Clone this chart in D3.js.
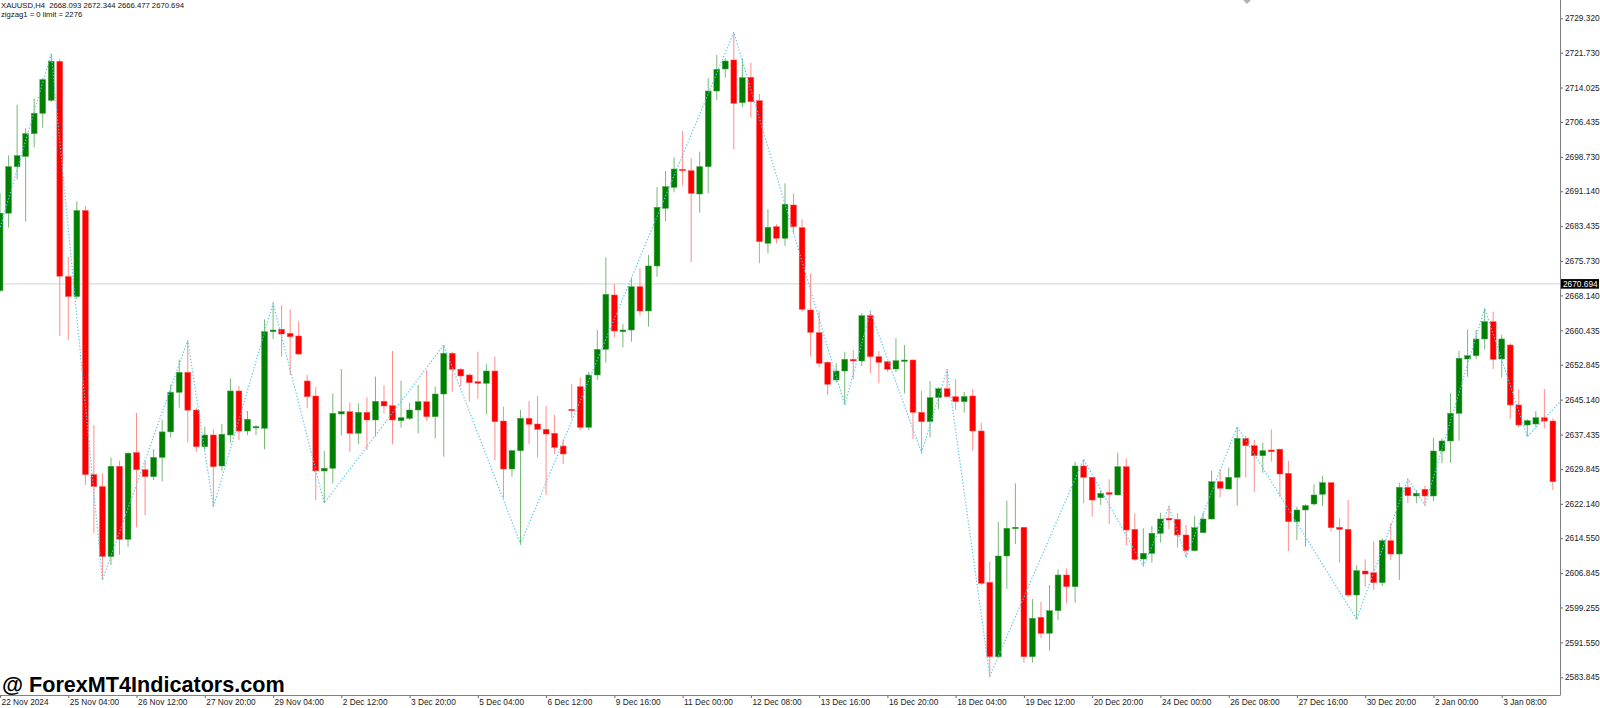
<!DOCTYPE html>
<html>
<head>
<meta charset="utf-8">
<script src="https://cdn.jsdelivr.net/npm/d3@7"></script>
<style>
html,body{margin:0;padding:0;background:#fff;}
svg{display:block;}
</style>
</head>
<body>
<svg id="chart" width="1600" height="708"></svg>
<script>
// ---------------- DATA ----------------
const opens = [2669.19,2686.30,2696.56,2698.83,2703.85,2708.35,2711.22,2719.83,2672.30,2667.91,
2686.89,2628.59,2625.94,2610.51,2630.42,2614.31,2633.47,2629.67,2628.15,2632.39,
2638.02,2646.76,2651.17,2642.85,2634.75,2637.33,2630.49,2637.33,2647.05,2638.22,
2638.90,2638.81,2660.14,2660.67,2659.78,2659.19,2649.26,2645.94,2629.39,2629.98,
2641.97,2642.48,2637.71,2642.34,2640.65,2644.77,2643.80,2640.49,2641.02,2642.85,
2644.68,2641.37,2646.38,2655.37,2651.84,2650.58,2649.10,2648.75,2651.46,2640.42,
2629.83,2633.87,2641.02,2639.76,2638.59,2637.71,2634.91,2643.01,2648.00,2639.03,
2650.58,2656.25,2668.24,2660.14,2660.51,2670.07,2664.71,2674.64,2687.38,2692.01,
2695.99,2695.68,2690.53,2696.56,2713.27,2718.13,2720.12,2710.69,2716.30,2711.13,
2679.65,2683.32,2680.76,2688.11,2683.10,2664.93,2659.92,2653.38,2649.48,2651.46,
2654.04,2653.67,2663.67,2654.62,2653.51,2651.90,2653.67,2653.89,2642.34,2640.27,
2645.57,2647.55,2645.79,2644.68,2645.94,2638.22,2604.82,2588.39,2610.62,2616.65,
2616.96,2588.39,2597.09,2593.56,2598.55,2606.43,2603.85,2630.49,2628.00,2623.49,
2624.60,2624.09,2630.34,2616.52,2609.96,2611.22,2615.63,2618.94,2618.72,2615.26,
2611.79,2615.77,2618.79,2627.02,2625.41,2628.00,2636.60,2634.97,2632.76,2634.02,
2634.20,2628.88,2618.20,2620.78,2622.10,2624.24,2626.80,2616.96,2616.52,2602.01,
2607.31,2606.94,2604.73,2614.00,2611.06,2625.79,2623.87,2625.35,2623.87,2633.80,
2636.01,2642.12,2654.11,2654.84,2658.53,2662.35,2654.11,2657.20,2643.96,2639.54,
2639.76,2641.15,2640.42];
const highs = [2690.76,2699.06,2710.25,2705.06,2711.62,2716.10,2721.48,2720.34,2676.63,2688.94,
2687.89,2639.54,2628.90,2632.39,2631.64,2633.50,2642.21,2631.64,2634.22,2640.69,
2648.50,2653.98,2658.24,2643.30,2639.17,2638.60,2639.76,2649.85,2648.15,2642.63,
2639.54,2662.87,2666.41,2666.03,2665.08,2662.50,2650.58,2647.86,2633.80,2646.54,
2651.90,2644.55,2644.33,2645.66,2650.20,2648.30,2655.88,2649.32,2644.46,2648.37,
2651.68,2648.00,2657.20,2655.72,2652.19,2650.95,2655.72,2652.94,2654.62,2643.58,
2634.00,2642.85,2644.84,2645.94,2643.74,2641.75,2636.38,2648.59,2649.92,2651.31,
2660.51,2676.56,2670.67,2661.84,2671.93,2674.13,2677.07,2692.01,2695.61,2698.64,
2704.44,2698.42,2699.87,2716.08,2721.22,2720.49,2726.23,2720.49,2719.52,2712.61,
2687.16,2683.85,2692.90,2690.69,2684.95,2673.03,2664.77,2653.67,2653.16,2655.72,
2656.10,2664.20,2664.55,2655.88,2653.60,2658.68,2657.20,2654.00,2647.05,2649.26,
2647.86,2651.84,2649.70,2646.83,2647.49,2640.05,2609.37,2618.20,2622.83,2626.67,
2617.00,2601.13,2600.53,2604.22,2607.69,2607.91,2631.44,2631.97,2628.00,2625.04,
2627.55,2633.43,2632.19,2620.05,2616.74,2617.25,2620.18,2621.51,2620.05,2617.47,
2619.52,2620.18,2629.39,2629.83,2630.12,2639.17,2637.11,2636.23,2635.64,2638.60,
2634.30,2631.66,2621.51,2622.04,2626.45,2628.34,2626.90,2618.94,2622.98,2608.63,
2609.89,2613.79,2614.53,2617.97,2626.80,2627.62,2625.19,2626.14,2636.74,2636.60,
2646.54,2655.88,2660.67,2660.51,2665.30,2664.55,2659.41,2657.58,2647.42,2640.80,
2642.63,2647.49,2641.02];
const lows = [2668.90,2683.10,2693.74,2684.46,2700.82,2705.15,2710.84,2659.17,2658.39,2667.36,
2626.32,2615.68,2605.32,2608.61,2610.89,2612.63,2616.96,2619.63,2627.38,2627.07,
2636.74,2643.34,2635.75,2633.65,2634.02,2621.44,2629.45,2635.64,2636.23,2637.33,
2637.33,2634.18,2658.46,2654.62,2650.58,2655.00,2643.23,2622.98,2622.32,2626.67,
2637.18,2633.65,2635.35,2634.02,2636.96,2642.12,2635.28,2638.95,2640.65,2637.71,
2640.49,2636.60,2632.54,2646.89,2648.00,2644.68,2645.28,2641.90,2631.81,2623.36,
2628.13,2613.27,2635.35,2632.41,2624.09,2633.14,2630.93,2641.02,2638.40,2638.40,
2649.48,2653.30,2658.90,2656.69,2657.93,2663.67,2661.24,2672.28,2684.57,2690.91,
2692.37,2675.46,2686.41,2690.69,2711.29,2716.21,2700.40,2709.67,2707.38,2675.24,
2677.44,2679.65,2679.06,2681.86,2664.55,2654.62,2652.28,2646.16,2648.88,2643.96,
2649.70,2652.57,2650.95,2648.75,2651.31,2651.18,2646.54,2636.38,2633.43,2636.83,
2643.07,2645.70,2642.85,2642.26,2633.87,2604.22,2584.13,2588.20,2603.34,2613.27,
2587.07,2587.07,2592.46,2589.72,2596.49,2600.18,2600.31,2622.26,2619.30,2621.88,
2617.69,2624.00,2613.05,2609.52,2608.41,2609.14,2613.56,2616.52,2612.46,2610.34,
2611.70,2615.63,2618.70,2623.58,2625.30,2621.73,2627.91,2624.82,2629.01,2631.44,
2623.71,2611.72,2614.16,2612.68,2621.73,2621.66,2615.99,2609.14,2601.57,2596.63,
2603.85,2603.12,2604.00,2609.74,2605.32,2622.26,2622.26,2621.81,2622.76,2631.09,
2631.22,2636.08,2650.20,2654.11,2656.25,2651.90,2649.98,2640.87,2639.03,2636.96,
2639.03,2638.81,2625.19];
const closes = [2686.30,2696.56,2698.99,2703.85,2708.35,2715.79,2719.83,2672.39,2667.91,2686.89,
2628.59,2625.94,2610.51,2630.42,2614.31,2633.32,2629.67,2628.15,2632.39,2638.02,
2646.76,2651.17,2642.81,2634.75,2637.33,2630.34,2637.49,2647.05,2638.22,2640.80,
2639.20,2660.14,2660.51,2659.63,2659.03,2655.21,2645.79,2629.39,2629.98,2642.12,
2642.48,2637.71,2642.34,2640.65,2644.77,2643.74,2640.65,2641.15,2642.85,2644.68,
2641.37,2646.38,2655.37,2651.84,2650.36,2648.88,2648.75,2651.46,2640.27,2629.83,
2633.87,2641.02,2639.70,2638.59,2637.55,2634.62,2633.14,2642.70,2639.03,2650.58,
2656.25,2668.39,2660.29,2660.51,2670.07,2664.71,2674.64,2687.60,2692.15,2696.05,
2695.68,2690.69,2696.56,2713.27,2718.06,2719.89,2710.56,2716.21,2710.91,2680.00,
2683.18,2680.76,2688.26,2683.32,2665.08,2660.01,2653.16,2648.52,2651.46,2654.04,
2653.67,2663.67,2654.62,2653.38,2651.84,2653.73,2653.89,2642.34,2640.27,2645.57,
2647.55,2645.79,2644.68,2645.83,2638.22,2604.60,2588.39,2610.62,2616.74,2616.96,
2588.39,2596.87,2593.56,2598.55,2606.43,2603.85,2630.49,2628.00,2622.98,2624.46,
2624.24,2630.34,2616.36,2609.89,2611.22,2615.63,2618.79,2618.57,2615.26,2611.79,
2616.87,2618.79,2627.02,2625.57,2628.00,2636.60,2634.97,2632.76,2633.87,2633.65,
2628.72,2618.20,2620.78,2621.73,2624.09,2626.80,2616.87,2616.52,2602.01,2607.38,
2606.65,2604.73,2614.00,2611.06,2625.79,2623.93,2624.46,2623.87,2633.80,2636.01,
2642.12,2654.27,2654.84,2658.53,2662.35,2654.04,2658.53,2643.96,2639.54,2640.49,
2641.15,2640.42,2627.02];

// ZigZag turning points: bar index, price
const zigIdx   = [-4, 6, 12, 22, 25, 32, 38, 52, 61, 86, 99, 102, 108, 111, 116, 127, 134, 137, 139, 145, 159, 165, 167, 174, 179, 186];
const zigPrice = [2657.5, 2721.48, 2605.32, 2658.24, 2621.44, 2666.41, 2622.32, 2657.20, 2613.27, 2726.23, 2643.96, 2664.55, 2633.43, 2651.84, 2584.13, 2631.97, 2608.41, 2621.51, 2610.34, 2639.17, 2596.63, 2627.62, 2621.81, 2665.30, 2636.96, 2651.0];

const priceTicks = ["2729.320","2721.730","2714.025","2706.435","2698.730","2691.140","2683.435","2675.730","2668.140","2660.435","2652.845","2645.140","2637.435","2629.845","2622.140","2614.550","2606.845","2599.255","2591.550","2583.845"];
const timeTickIdx = [0,8,16,24,32,40,48,56,64,72,80,88,96,104,112,120,128,136,144,152,160,168,176];
const timeTickLabels = ["22 Nov 2024","25 Nov 04:00","26 Nov 12:00","27 Nov 20:00","29 Nov 04:00","2 Dec 12:00","3 Dec 20:00","5 Dec 04:00","6 Dec 12:00","9 Dec 16:00","11 Dec 00:00","12 Dec 08:00","13 Dec 16:00","16 Dec 20:00","18 Dec 04:00","19 Dec 12:00","20 Dec 20:00","24 Dec 00:00","26 Dec 08:00","27 Dec 16:00","30 Dec 20:00","2 Jan 00:00","3 Jan 08:00"];
const currentPrice = 2670.694;
const headerLine1 = "XAUUSD,H4  2668.093 2672.344 2666.477 2670.694";
const headerLine2 = "zigzag1 = 0 limit = 2276";
const watermark = "@ ForexMT4Indicators.com";

// ---------------- LAYOUT ----------------
const plotRight = 1560, plotBottom = 695;
const svg = d3.select("#chart");
const x = d3.scaleLinear().domain([0, 182]).range([0.05, 1552.9]);
const y = d3.scaleLinear().domain([2583.845, 2729.32]).range([677.3, 18.3]);
const font = "'Liberation Sans', Arial, sans-serif";

const bars = opens.map((o, i) => ({i, o, h: highs[i], l: lows[i], c: closes[i]}));

svg.append("defs").append("clipPath").attr("id", "plotclip")
  .append("rect").attr("x", 0).attr("y", 0).attr("width", plotRight).attr("height", plotBottom);

const plot = svg.append("g").attr("clip-path", "url(#plotclip)");

// current price line
plot.append("line")
  .attr("x1", 0).attr("x2", plotRight)
  .attr("y1", y(currentPrice)).attr("y2", y(currentPrice))
  .attr("stroke", "#d2d2d2").attr("stroke-width", 1);

const upCol = "#008000", dnCol = "#ff0000";
const upWick = "#78b878", dnWick = "#ff8c8c";

// wicks
plot.append("g").selectAll("line").data(bars).join("line")
  .attr("x1", d => x(d.i)).attr("x2", d => x(d.i))
  .attr("y1", d => y(d.h)).attr("y2", d => y(d.l))
  .attr("stroke", d => d.c >= d.o ? upWick : dnWick)
  .attr("stroke-width", 1);

// bodies
const bw = 5.8;
plot.append("g").selectAll("rect").data(bars).join("rect")
  .attr("x", d => x(d.i) - bw / 2)
  .attr("width", bw)
  .attr("y", d => y(Math.max(d.o, d.c)))
  .attr("height", d => Math.max(1.4, Math.abs(y(d.o) - y(d.c))))
  .attr("fill", d => d.c >= d.o ? upCol : dnCol)
  .attr("stroke", d => d.c >= d.o ? "#3f9f3f" : "#ff5050")
  .attr("stroke-width", 0.5);

// zigzag
const zz = zigIdx.map((d, k) => [x(d), y(zigPrice[k])]);
plot.append("path")
  .attr("d", d3.line()(zz))
  .attr("fill", "none")
  .attr("stroke", "#55c8f0")
  .attr("stroke-width", 1.2)
  .attr("stroke-dasharray", "1.3 1.9");

// ---------------- AXES ----------------
const yAxis = d3.axisRight(y)
  .tickValues(priceTicks.map(Number))
  .tickFormat((d, k) => priceTicks[k])
  .tickSize(3).tickPadding(2);
const ya = svg.append("g").attr("transform", `translate(${plotRight},0)`).call(yAxis);
ya.select(".domain").remove();
ya.selectAll(".tick line").attr("stroke", "#666");
ya.selectAll(".tick text").attr("font-family", font).attr("font-size", 8.3).attr("fill", "#1a1a1a");

const xAxis = d3.axisBottom(x)
  .tickValues(timeTickIdx)
  .tickFormat((d, k) => timeTickLabels[k])
  .tickSize(3);
const xa = svg.append("g").attr("transform", `translate(0,${plotBottom})`).call(xAxis);
xa.select(".domain").remove();
xa.selectAll(".tick line").attr("stroke", "#666");
xa.selectAll(".tick text")
  .attr("font-family", font).attr("font-size", 8.3).attr("fill", "#1a1a1a")
  .attr("text-anchor", "start").attr("x", 1).attr("y", 4.3);

// frame lines
svg.append("line").attr("x1", plotRight + 0.5).attr("x2", plotRight + 0.5)
  .attr("y1", 0).attr("y2", plotBottom).attr("stroke", "#808080");
svg.append("line").attr("x1", 0).attr("x2", plotRight + 0.5)
  .attr("y1", plotBottom + 0.5).attr("y2", plotBottom + 0.5).attr("stroke", "#808080");

// current price label
const cpy = y(currentPrice);
svg.append("rect").attr("x", plotRight + 1).attr("y", cpy - 4.8)
  .attr("width", 38).attr("height", 9.6).attr("fill", "#000");
svg.append("text").attr("x", plotRight + 3).attr("y", cpy)
  .attr("dy", "0.35em").attr("font-family", font).attr("font-size", 8.3)
  .attr("fill", "#fff").text(currentPrice.toFixed(3));

// header text
svg.append("text").attr("x", 1).attr("y", 7.5)
  .attr("font-family", font).attr("font-size", 7.7).attr("fill", "#111")
  .attr("xml:space", "preserve").style("white-space", "pre").text(headerLine1);
svg.append("text").attr("x", 1).attr("y", 17)
  .attr("font-family", font).attr("font-size", 7.7).attr("fill", "#111").text(headerLine2);

// chart shift marker
svg.append("path").attr("d", "M1243,0 L1251,0 L1247,4 Z").attr("fill", "#b4b4b4");

// watermark
svg.append("text").attr("x", 2).attr("y", 692)
  .attr("font-family", font).attr("font-weight", "bold").attr("font-size", 21.6)
  .attr("fill", "#000").text(watermark);
</script>
</body>
</html>
